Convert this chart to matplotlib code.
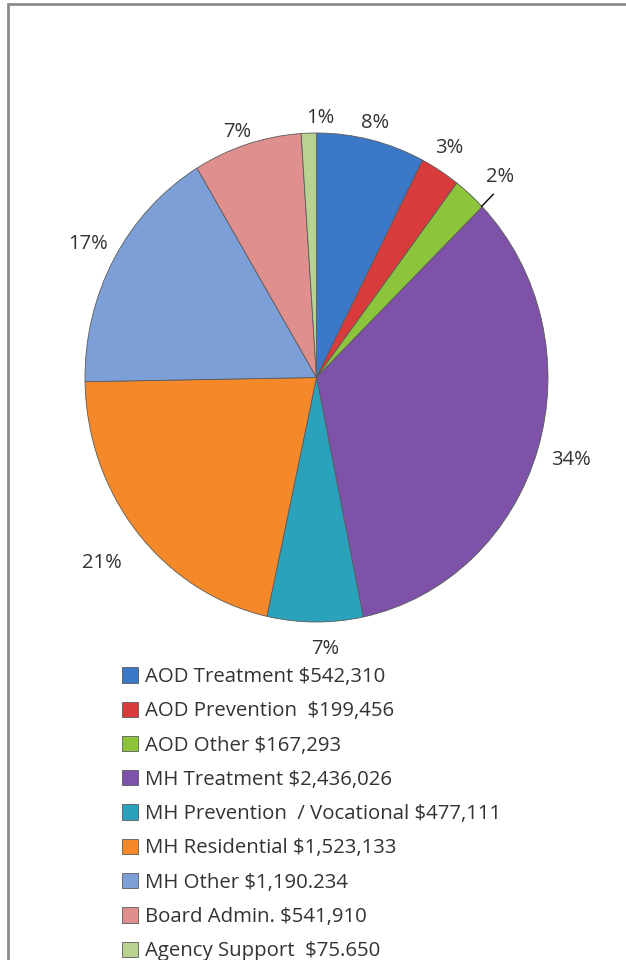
import numpy as np
import matplotlib
matplotlib.use("Agg")
from matplotlib import pyplot as plt
from matplotlib.patches import Rectangle

# Budget categories and amounts, as printed in the legend
categories = ["AOD Treatment", "AOD Prevention", "AOD Other", "MH Treatment",
              "MH Prevention  / Vocational", "MH Residential", "MH Other",
              "Board Admin.", "Agency Support"]
amountLabels = ["$542,310", " $199,456", "$167,293", "$2,436,026", "$477,111",
                "$1,523,133", "$1,190.234", "$541,910", " $75.650"]
amounts = [542310, 199456, 167293, 2436026, 477111, 1523133, 1190234, 541910, 75650]
pctLabels = ["8%", "3%", "2%", "34%", "7%", "21%", "17%", "7%", "1%"]

colors = ["#3b78c8", "#d93a3a", "#8cc43c", "#7e52a8", "#2aa2bc",
          "#f5892a", "#7d9fd8", "#e08f8f", "#b8d290"]

# label placement: distance from centre (in radii) and small angle nudge (deg)
labelDist = [1.07, 1.1, 1.14, 1.15, 1.11, 1.2, 1.13, 1.06, 1.06]
labelNudge = [0, 1, -2.5, 0, 2.4, 0, 0, 1.3, -2.8]

plt.rcParams['font.family'] = ['Open Sans', 'DejaVu Sans']

W, H = 626, 960
fig = plt.figure(figsize=(W / 100, H / 100), dpi=100)

# outer frame (only top and left visible)
fig.patches.append(Rectangle((8 / W, -0.1), 1.2, 1.1 - 4 / H, transform=fig.transFigure,
                             fill=False, edgecolor="#8c8c8c", linewidth=2))

ax = fig.add_axes([85 / W, 1 - 622 / H, 463 / W, 489 / H])
wedges, _ = ax.pie(amounts, colors=colors, startangle=90, counterclock=False,
                   wedgeprops=dict(edgecolor="#5a5a5a", linewidth=0.6))
ax.set_aspect('auto')
ax.set_xlim(-1, 1)
ax.set_ylim(-1, 1)
ax.axis('off')

for w, lab, d, nudge in zip(wedges, pctLabels, labelDist, labelNudge):
    mid = np.deg2rad((w.theta1 + w.theta2) / 2 + nudge)
    x, y = d * np.cos(mid), d * np.sin(mid)
    ax.text(x, y, lab, ha='center', va='center', fontsize=14.5, color="#333333", clip_on=False)
    if lab == "2%":
        a = mid - np.deg2rad(1.5)
        ax.plot([1.0 * np.cos(a), 1.07 * np.cos(a)],
                [1.0 * np.sin(a), 1.07 * np.sin(a)], color="black", lw=1, clip_on=False)

legendLabels = [c + " " + a for c, a in zip(categories, amountLabels)]
fig.legend(wedges, legendLabels, loc='upper left', bbox_to_anchor=(122 / W, 1 - 667 / H),
           frameon=False, fontsize=14.7, handlelength=0.78, handleheight=0.78,
           handletextpad=0.34, labelspacing=0.70, borderpad=0, borderaxespad=0,
           labelcolor="#333333")

fig.savefig("out.png", dpi=100)
